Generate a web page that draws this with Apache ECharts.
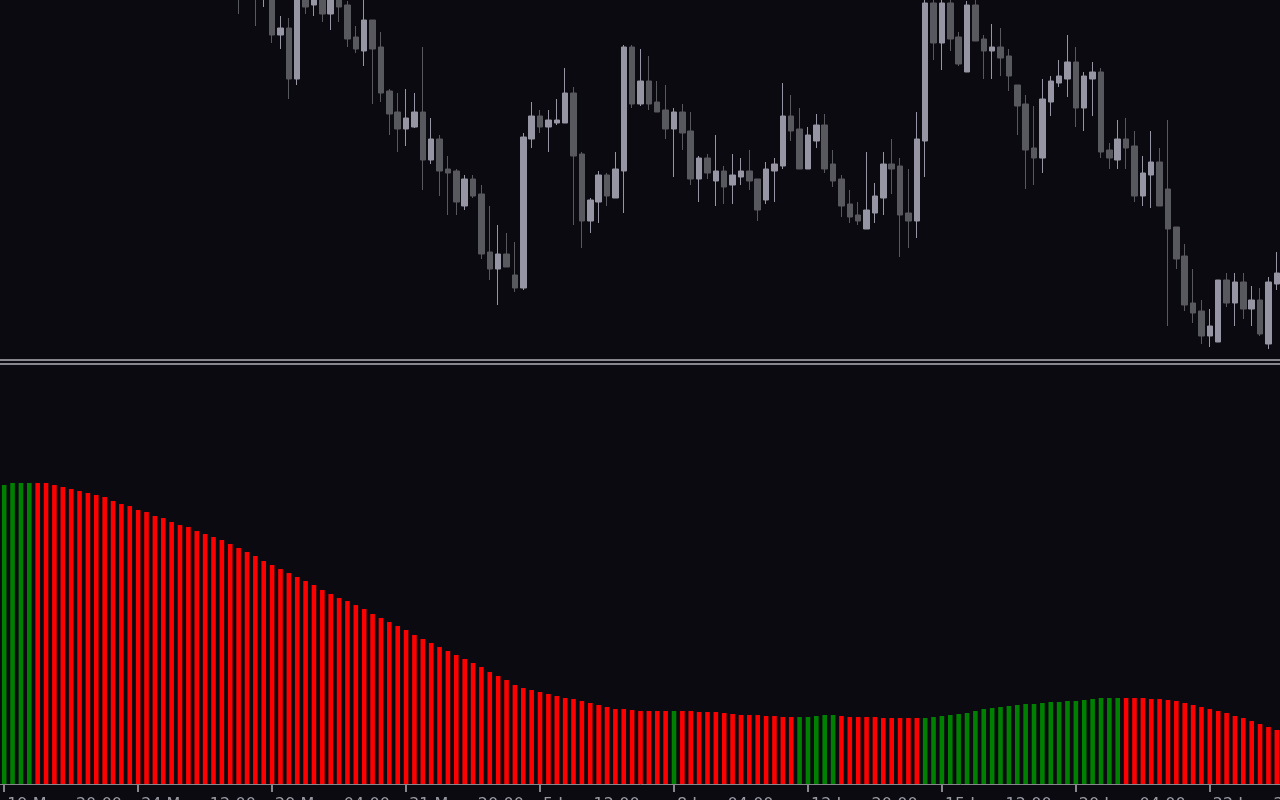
<!DOCTYPE html>
<html>
<head>
<meta charset="utf-8">
<style>
  html, body { margin: 0; padding: 0; background: #0a0a10; }
  #chart { width: 1280px; height: 800px; }
</style>
<script src="https://cdn.jsdelivr.net/npm/echarts@6/dist/echarts.min.js"></script>
</head>
<body>
<div id="chart"></div>
<script>
// ---------- DATA (H4 bars) ----------
const barCount = 153;
const months = ['Jan','Feb','Mar','Apr','May','Jun','Jul','Aug','Sep','Oct','Nov','Dec'];

// price (chart units)
const opens = [
  478,484,481,488,479,470,474,466,459,463,455,450,456,447,442,446,438,434,440,432,
  428,433,426,423,428,421,418,424,420,408,415,404,412,365,372,321,408,395,406,386,
  404,395,363,349,380,353,309,288,271,273,288,240,261,231,229,194,221,206,148,131,
  146,125,112,261,284,273,277,277,307,246,179,198,225,202,229,353,296,319,298,290,
  271,288,269,221,242,219,229,215,223,229,221,200,229,234,284,271,231,259,275,236,
  221,196,185,171,187,202,236,234,187,179,259,397,357,397,363,328,395,361,349,353,
  344,315,296,252,242,298,317,321,338,292,321,328,250,240,261,254,204,225,238,211,
  173,144,97,89,64,58,120,97,118,91,100,56,116
];
const highs = [
  490,492,495,493,484,480,478,470,468,466,460,461,458,451,452,449,442,444,443,436,
  437,436,430,432,431,425,428,427,425,420,419,416,414,384,382,412,412,410,409,408,
  406,399,374,402,380,368,311,307,311,307,353,282,265,244,231,225,225,215,194,175,
  167,158,267,298,290,290,301,332,313,248,202,229,227,248,355,355,351,344,319,315,
  292,296,288,244,246,265,234,246,242,250,221,238,242,317,305,292,273,286,286,250,
  225,210,198,248,217,248,261,242,231,288,403,403,404,404,368,399,401,365,376,372,
  351,315,305,294,321,324,340,365,353,328,338,332,257,280,282,269,244,269,252,280,
  173,156,131,100,91,120,127,127,127,114,112,123,148
];
const lows = [
  472,476,478,474,465,463,460,453,455,450,444,446,441,437,438,433,428,430,427,422,
  424,420,417,419,415,412,414,410,386,402,374,393,357,351,301,315,386,384,378,370,
  378,353,347,334,296,298,265,248,254,272,210,236,204,185,185,190,202,141,120,95,
  133,108,110,252,267,248,275,277,175,152,167,177,194,202,187,292,294,290,288,261,
  223,250,215,198,221,194,196,196,215,210,179,196,198,231,259,231,231,252,227,213,
  183,177,175,171,177,185,206,143,152,162,223,340,330,349,334,328,359,321,321,324,
  309,265,211,215,227,284,313,303,273,269,284,242,231,231,231,198,194,192,194,74,
  131,89,77,56,53,58,93,74,81,74,64,51,110
];
const closes = [
  484,481,488,479,470,474,466,459,463,455,450,456,447,442,446,438,434,440,432,428,
  433,426,423,428,421,418,424,420,408,415,405,412,365,372,321,408,393,406,386,404,
  393,361,351,380,351,307,286,271,282,288,240,261,229,227,198,221,204,146,131,146,
  133,112,263,284,273,280,280,307,244,179,200,225,204,231,353,296,319,296,288,271,
  288,267,221,242,227,229,213,225,229,219,190,231,236,284,269,231,265,275,231,219,
  194,183,179,190,204,236,231,185,179,261,397,357,397,361,336,395,359,349,353,342,
  324,294,250,242,301,319,324,338,292,324,328,248,242,261,252,204,227,238,194,171,
  141,95,87,64,74,120,97,118,91,100,66,118,127
];

// lower panel histogram
const histValues = [
  299,301,301,301,301,301,299,297,295,293,291,289,287,283,280,278,274,272,268,266,
  262,259,257,253,250,247,244,240,236,232,228,223,219,215,211,207,203,199,194,190,
  186,183,179,175,170,166,162,158,154,149,145,141,137,133,129,125,121,117,112,108,
  104,99,96,94,92,90,88,86,85,83,81,79,77,75,75,74,73,73,73,73,
  73,73,73,72,72,72,71,70,69,69,69,68,68,67,67,67,67,68,69,69,
  68,67,67,67,67,66,66,66,66,66,66,67,68,69,70,71,73,75,76,77,
  78,79,80,80,81,82,82,83,83,84,85,86,86,86,86,86,86,85,85,84,
  83,81,79,77,75,73,71,68,66,63,60,57,54
];
// 1 = green (rising), 0 = red (falling)
const histRising = [
  1,1,1,1,0,0,0,0,0,0,0,0,0,0,0,0,0,0,0,0,
  0,0,0,0,0,0,0,0,0,0,0,0,0,0,0,0,0,0,0,0,
  0,0,0,0,0,0,0,0,0,0,0,0,0,0,0,0,0,0,0,0,
  0,0,0,0,0,0,0,0,0,0,0,0,0,0,0,0,0,0,0,0,
  1,0,0,0,0,0,0,0,0,0,0,0,0,0,0,1,1,1,1,1,
  0,0,0,0,0,0,0,0,0,0,1,1,1,1,1,1,1,1,1,1,
  1,1,1,1,1,1,1,1,1,1,1,1,1,1,0,0,0,0,0,0,
  0,0,0,0,0,0,0,0,0,0,0,0,0
];

// bar times (H4, weekends skipped), first bar 19 May 2023 20:00
const firstBarUTC = Date.UTC(2023, 4, 19, 20);
const tickEvery = 16;

const categories = [];
{
  let t = firstBarUTC;
  while (categories.length < barCount) {
    const d = new Date(t);
    const wd = d.getUTCDay();
    if (wd !== 0 && wd !== 6) {
      const hh = String(d.getUTCHours()).padStart(2, '0');
      categories.push(d.getUTCDate() + ' ' + months[d.getUTCMonth()] + '  ' + hh + ':00');
    }
    t += 4 * 3600 * 1000;
  }
}

// ---------- STYLE ----------
const BG = '#0a0a10';
const BULL = '#9595a3';
const BEAR = '#58585f';
const GRID_LINE = '#86868e';
const GREEN = '#008000';
const RED = '#ff0000';

const candleData = opens.map((o, i) => [o, closes[i], lows[i], highs[i]]);
const histData = histValues.map((v, i) => ({
  value: v,
  itemStyle: { color: histRising[i] ? GREEN : RED }
}));

const showTick = (i) => i % tickEvery === 0;

const chart = echarts.init(document.getElementById('chart'), null, { renderer: 'canvas' });
chart.setOption({
  backgroundColor: BG,
  animation: false,
  grid: [
    { left: 0, width: 1281, top: 0, height: 360, containLabel: false, outerBoundsMode: 'none' },
    { left: 0, width: 1281, top: 364, height: 420, containLabel: false, outerBoundsMode: 'none' }
  ],
  xAxis: [
    {
      type: 'category', gridIndex: 0, data: categories, boundaryGap: true,
      axisLine: { show: true, lineStyle: { color: GRID_LINE, width: 2 } },
      axisTick: { show: false }, axisLabel: { show: false }, splitLine: { show: false }
    },
    {
      type: 'category', gridIndex: 1, data: categories, boundaryGap: true, position: 'top',
      axisLine: { show: true, onZero: false, lineStyle: { color: GRID_LINE, width: 2 } },
      axisTick: { show: false }, axisLabel: { show: false }, splitLine: { show: false }
    },
    {
      type: 'category', gridIndex: 1, data: categories, boundaryGap: true, position: 'bottom',
      axisLine: { show: true, onZero: false, lineStyle: { color: GRID_LINE, width: 1 } },
      axisTick: {
        show: true, alignWithLabel: true, interval: (i) => showTick(i), length: 8,
        lineStyle: { color: GRID_LINE, width: 2 }
      },
      axisLabel: {
        show: true, interval: (i) => showTick(i), align: 'left', margin: 13,
        padding: [0, 0, 0, 3], hideOverlap: false,
        color: '#9a9aa4', fontFamily: 'DejaVu Sans', fontSize: 16
      },
      splitLine: { show: false }
    }
  ],
  yAxis: [
    { type: 'value', gridIndex: 0, min: 40, max: 400, show: false, splitLine: { show: false } },
    { type: 'value', gridIndex: 1, min: 0, max: 420, show: false, splitLine: { show: false } }
  ],
  series: [
    {
      type: 'candlestick', xAxisIndex: 0, yAxisIndex: 0, data: candleData,
      barWidth: 6, clip: true,
      itemStyle: {
        color: BULL, color0: BEAR,
        borderColor: BULL, borderColor0: BEAR, borderColorDoji: BULL,
        borderWidth: 1
      }
    },
    {
      type: 'bar', xAxisIndex: 2, yAxisIndex: 1, data: histData,
      barWidth: 4.6, clip: true
    }
  ]
});
</script>
</body>
</html>
